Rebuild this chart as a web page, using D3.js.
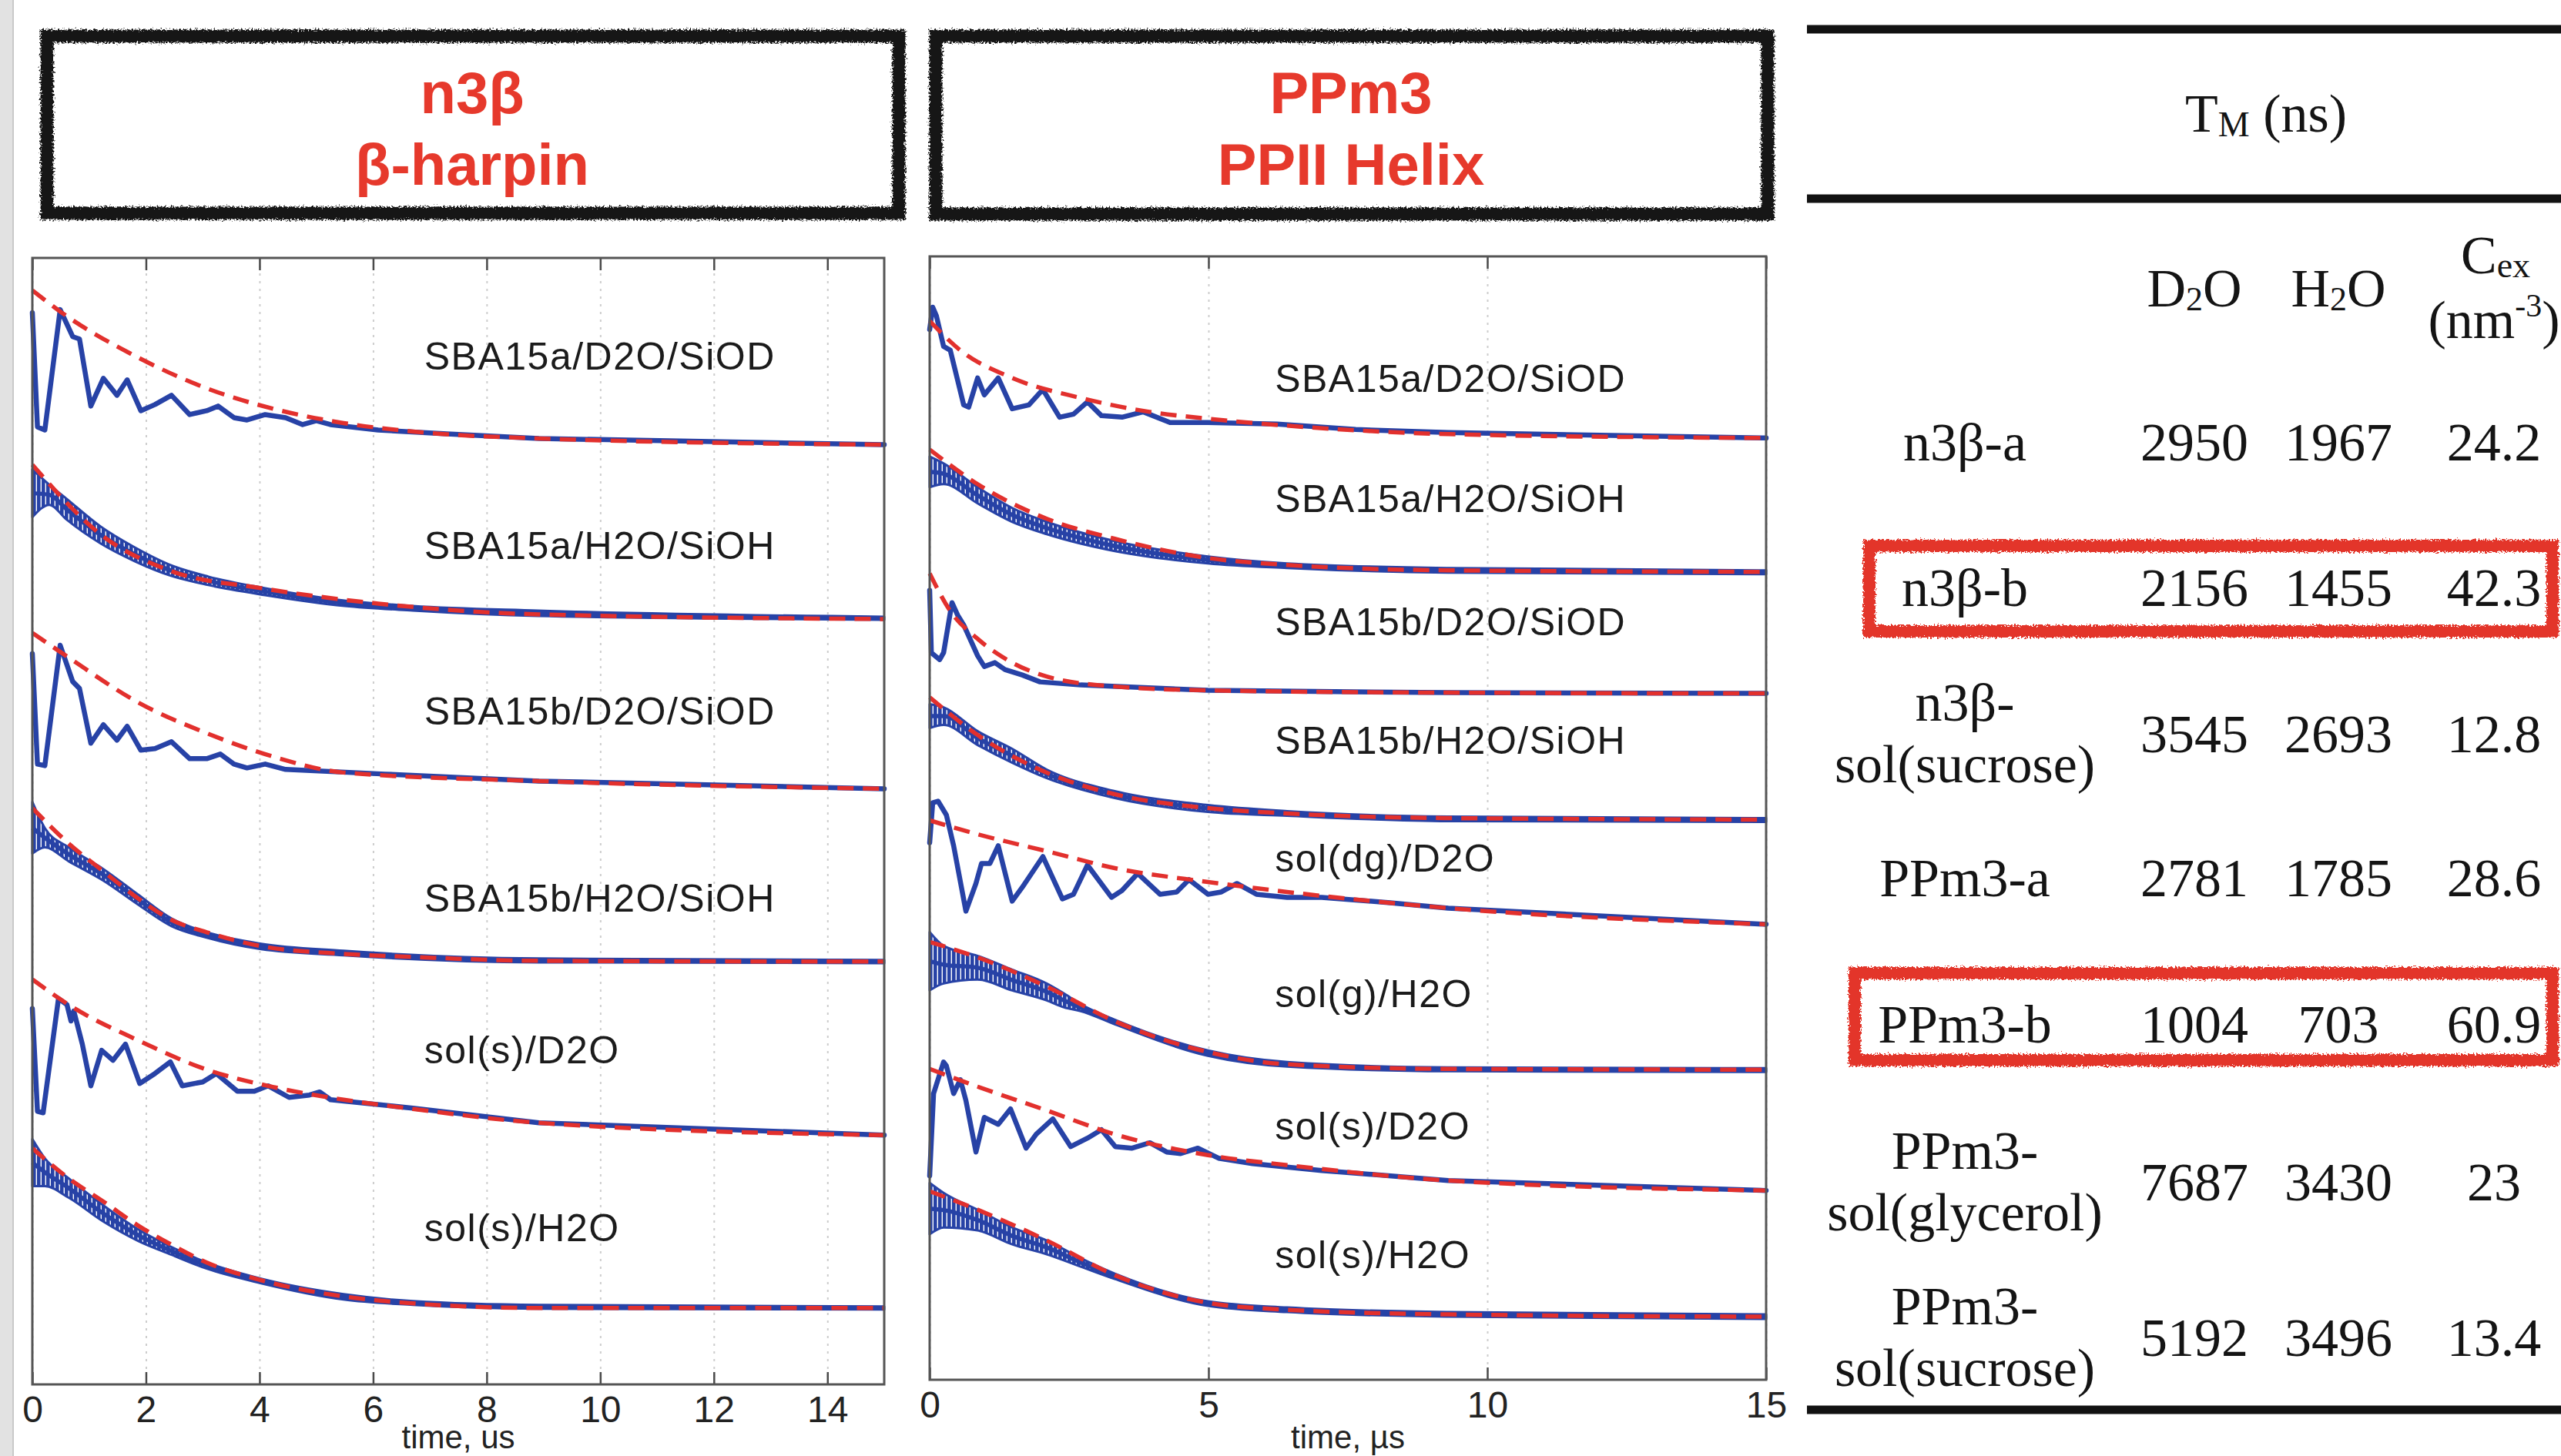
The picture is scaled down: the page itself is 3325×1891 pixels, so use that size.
<!DOCTYPE html>
<html>
<head>
<meta charset="utf-8">
<script src="https://cdn.jsdelivr.net/npm/d3@7"></script>
<style>
  body { margin: 0; background: #fff; }
  svg { display: block; }
  .sans { font-family: "Liberation Sans", Arial, Helvetica, sans-serif; }
  .serif { font-family: "Liberation Serif", "Times New Roman", Times, serif; fill: #141414; }
</style>
</head>
<body>
<svg id="fig" width="3325" height="1891"></svg>
<script>
// ---------------- data ----------------
// time axis in µs; echo amplitudes are stacked (each trace carries its own offset)

const n3bTitle = ["n3β", "β-harpin"];
const ppTitle = ["PPm3", "PPII Helix"];

const n3bTicks = [0, 2, 4, 6, 8, 10, 12, 14];
const ppTicks = [0, 5, 10, 15];

const n3bNames = ["SBA15a/D2O/SiOD", "SBA15a/H2O/SiOH", "SBA15b/D2O/SiOD", "SBA15b/H2O/SiOH", "sol(s)/D2O", "sol(s)/H2O"];
const n3bNameY = [6.665, 5.44, 4.365, 3.155, 2.17, 1.02];

const ppNames = ["SBA15a/D2O/SiOD", "SBA15a/H2O/SiOH", "SBA15b/D2O/SiOD", "SBA15b/H2O/SiOH", "sol(dg)/D2O", "sol(g)/H2O", "sol(s)/D2O", "sol(s)/H2O"];
const ppNameY = [6.51, 5.73, 4.93, 4.16, 3.39, 2.51, 1.65, 0.815];

// n3β: measured decays [t, echo] (D2O) or [t, low, high] band (H2O, proton modulation)
const n3bSbaAD2O = [[0, 6.945], [0.09, 6.205], [0.22, 6.185], [0.49, 6.965], [0.71, 6.79], [0.83, 6.775], [1.03, 6.34], [1.25, 6.52], [1.49, 6.41], [1.67, 6.51], [1.91, 6.31], [2.16, 6.35], [2.45, 6.41], [2.77, 6.285], [3.07, 6.31], [3.27, 6.34], [3.55, 6.265], [3.78, 6.25], [4.10, 6.285], [4.46, 6.265], [4.76, 6.22], [5.00, 6.245], [5.25, 6.22], [6.09, 6.185], [7.30, 6.16], [8.92, 6.13], [15, 6.09]];
const n3bSbaAD2OFit = [[0, 7.09], [0.52, 6.945], [1.86, 6.655], [3.07, 6.455], [4.27, 6.32], [5.48, 6.23], [6.70, 6.175], [8.92, 6.13], [15, 6.09]];

const n3bSbaAH2O = [[0, 5.62, 5.93], [0.3, 5.70, 5.83], [0.6, 5.605, 5.74], [1.2, 5.45, 5.56], [1.8, 5.335, 5.425], [2.4, 5.245, 5.315], [3.1, 5.18, 5.235], [4.1, 5.115, 5.16], [5.5, 5.045, 5.08], [6.7, 5.015, 5.045], [8.9, 4.98, 5.015], [15, 4.955, 4.975]];
const n3bSbaAH2OFit = [[0, 5.96], [1.25, 5.495], [2.45, 5.27], [4.03, 5.16], [6.09, 5.06], [8.92, 4.99], [15, 4.96]];

const n3bSbaBD2O = [[0, 4.735], [0.09, 4.02], [0.22, 4.01], [0.49, 4.79], [0.71, 4.555], [0.83, 4.51], [1.03, 4.155], [1.25, 4.275], [1.49, 4.175], [1.67, 4.265], [1.91, 4.11], [2.16, 4.12], [2.45, 4.165], [2.77, 4.055], [3.07, 4.055], [3.31, 4.085], [3.55, 4.02], [3.78, 3.995], [4.10, 4.02], [4.46, 3.985], [6.21, 3.955], [8.92, 3.91], [15, 3.86]];
const n3bSbaBD2OFit = [[0, 4.87], [0.64, 4.71], [1.86, 4.42], [3.07, 4.22], [4.27, 4.065], [5.48, 3.965], [8.92, 3.91], [15, 3.86]];

const n3bSbaBH2O = [[0, 3.44, 3.775], [0.22, 3.48, 3.605], [0.64, 3.39, 3.48], [1.25, 3.265, 3.34], [1.86, 3.11, 3.175], [2.45, 2.97, 3.02], [3.07, 2.895, 2.93], [4.03, 2.82, 2.855], [5.48, 2.78, 2.81], [8.92, 2.735, 2.76], [15, 2.73, 2.75]];
const n3bSbaBH2OFit = [[0, 3.735], [0.64, 3.505], [1.25, 3.325], [1.86, 3.15], [2.45, 3.01], [3.07, 2.93], [4.03, 2.84], [5.48, 2.79], [6.70, 2.77], [8.92, 2.745], [15, 2.74]];

const n3bSolD2O = [[0, 2.435], [0.09, 1.77], [0.19, 1.76], [0.46, 2.50], [0.61, 2.46], [0.68, 2.355], [0.73, 2.42], [0.88, 2.205], [1.03, 1.935], [1.22, 2.165], [1.42, 2.10], [1.64, 2.205], [1.89, 1.95], [2.16, 2.015], [2.43, 2.09], [2.64, 1.935], [3.00, 1.96], [3.24, 2.015], [3.61, 1.90], [3.91, 1.90], [4.15, 1.935], [4.52, 1.86], [4.88, 1.875], [5.06, 1.895], [5.25, 1.845], [6.70, 1.79], [8.92, 1.695], [15, 1.615]];
const n3bSolD2OFit = [[0, 2.625], [0.64, 2.46], [1.86, 2.23], [3.07, 2.04], [4.27, 1.925], [5.48, 1.845], [6.70, 1.785], [8.92, 1.695], [15, 1.615]];

const n3bSolH2O = [[0, 1.285, 1.59], [0.22, 1.285, 1.465], [0.64, 1.21, 1.335], [1.25, 1.055, 1.16], [1.86, 0.93, 1.005], [2.45, 0.84, 0.89], [3.07, 0.75, 0.79], [4.03, 0.655, 0.685], [5.48, 0.55, 0.585], [6.70, 0.515, 0.54], [8.92, 0.49, 0.515], [15, 0.485, 0.505]];
const n3bSolH2OFit = [[0, 1.53], [0.64, 1.335], [1.25, 1.185], [1.86, 1.03], [2.45, 0.905], [3.07, 0.79], [4.03, 0.675], [5.48, 0.57], [6.70, 0.525], [8.92, 0.495], [15, 0.495]];

// PPm3
const ppSbaAD2O = [[0, 6.825], [0.055, 6.97], [0.12, 6.915], [0.25, 6.715], [0.37, 6.69], [0.61, 6.335], [0.70, 6.32], [0.86, 6.51], [0.98, 6.40], [1.23, 6.51], [1.48, 6.31], [1.78, 6.335], [2.03, 6.435], [2.33, 6.255], [2.58, 6.275], [2.83, 6.355], [3.08, 6.265], [3.45, 6.255], [3.83, 6.29], [4.31, 6.22], [4.99, 6.22], [6.23, 6.21], [7.64, 6.175], [9.30, 6.155], [15, 6.12]];
const ppSbaAD2OFit = [[0, 6.88], [0.55, 6.69], [1.48, 6.51], [2.71, 6.38], [3.94, 6.29], [4.99, 6.245], [6.41, 6.20], [9.30, 6.145], [15, 6.12]];

const ppSbaAH2O = [[0, 5.80, 6.00], [0.25, 5.82, 5.955], [0.86, 5.695, 5.80], [1.48, 5.575, 5.665], [2.1, 5.495, 5.575], [3.32, 5.385, 5.45], [4.99, 5.305, 5.35], [6.41, 5.275, 5.305], [9.30, 5.245, 5.275], [15, 5.235, 5.26]];
const ppSbaAH2OFit = [[0, 6.045], [0.86, 5.82], [2.1, 5.595], [3.32, 5.465], [4.99, 5.34], [6.41, 5.295], [9.30, 5.26], [15, 5.25]];

const ppSbaBD2O = [[0, 5.13], [0.03, 4.725], [0.18, 4.68], [0.25, 4.725], [0.40, 5.05], [0.50, 4.97], [0.61, 4.905], [0.86, 4.705], [0.98, 4.635], [1.17, 4.66], [1.35, 4.615], [1.66, 4.58], [1.98, 4.535], [2.71, 4.515], [4.99, 4.48], [9.30, 4.465], [15, 4.46]];
const ppSbaBD2OFit = [[0, 5.24], [0.37, 4.995], [0.86, 4.815], [1.48, 4.66], [2.1, 4.57], [3.32, 4.505], [4.99, 4.48], [9.30, 4.465], [15, 4.46]];

const ppSbaBH2O = [[0, 4.235, 4.39], [0.25, 4.255, 4.37], [0.86, 4.125, 4.215], [1.48, 4.01, 4.10], [2.1, 3.91, 3.965], [3.32, 3.78, 3.825], [4.99, 3.69, 3.735], [6.41, 3.665, 3.695], [9.30, 3.63, 3.66], [15, 3.625, 3.65]];
const ppSbaBH2OFit = [[0, 4.435], [0.86, 4.19], [2.1, 3.945], [3.32, 3.805], [4.99, 3.715], [6.41, 3.68], [9.30, 3.65], [15, 3.64]];

const ppDgD2O = [[0, 3.49], [0.055, 3.75], [0.15, 3.76], [0.30, 3.67], [0.43, 3.47], [0.65, 3.045], [0.83, 3.225], [0.93, 3.355], [1.08, 3.355], [1.23, 3.47], [1.48, 3.11], [1.66, 3.20], [2.03, 3.40], [2.38, 3.125], [2.58, 3.155], [2.83, 3.345], [3.26, 3.135], [3.45, 3.18], [3.73, 3.29], [4.13, 3.155], [4.43, 3.17], [4.65, 3.25], [4.99, 3.155], [5.23, 3.17], [5.51, 3.225], [5.86, 3.155], [6.41, 3.135], [7.03, 3.135], [8.26, 3.10], [9.30, 3.065], [15, 2.96]];
const ppDgD2OFit = [[0, 3.635], [0.86, 3.545], [2.1, 3.435], [3.32, 3.325], [4.99, 3.235], [6.41, 3.17], [9.30, 3.065], [15, 2.96]];

const ppGH2O = [[0, 2.53, 2.91], [0.25, 2.575, 2.82], [0.86, 2.60, 2.755], [1.48, 2.53, 2.665], [2.1, 2.465, 2.575], [2.41, 2.42, 2.51], [2.71, 2.395, 2.44], [3.32, 2.31, 2.34], [4.99, 2.105, 2.14], [6.41, 2.035, 2.065], [9.30, 2.005, 2.03], [15, 2.00, 2.025]];
const ppGH2OFit = [[0, 2.845], [0.86, 2.745], [2.1, 2.555], [3.32, 2.33], [4.99, 2.13], [6.41, 2.05], [9.30, 2.02], [15, 2.015]];

const ppSD2O = [[0, 1.325], [0.07, 1.86], [0.25, 2.065], [0.30, 2.04], [0.43, 1.86], [0.55, 1.95], [0.65, 1.815], [0.83, 1.48], [0.98, 1.705], [1.23, 1.66], [1.45, 1.76], [1.73, 1.505], [1.91, 1.595], [2.21, 1.695], [2.53, 1.515], [2.83, 1.57], [3.08, 1.625], [3.33, 1.515], [3.63, 1.505], [3.95, 1.54], [4.25, 1.48], [4.50, 1.47], [4.81, 1.505], [5.18, 1.44], [5.79, 1.405], [7.03, 1.36], [9.30, 1.295], [15, 1.23]];
const ppSD2OFit = [[0, 2.02], [0.86, 1.905], [2.1, 1.75], [3.32, 1.595], [4.99, 1.46], [6.41, 1.395], [9.30, 1.295], [15, 1.23]];

const ppSH2O = [[0, 0.945, 1.28], [0.25, 0.99, 1.215], [0.86, 0.97, 1.105], [1.48, 0.88, 0.99], [2.1, 0.815, 0.905], [2.71, 0.735, 0.79], [3.32, 0.655, 0.69], [4.99, 0.48, 0.51], [6.41, 0.44, 0.47], [9.30, 0.41, 0.44], [15, 0.395, 0.425]];
const ppSH2OFit = [[0, 1.225], [0.86, 1.105], [2.1, 0.905], [3.32, 0.68], [4.99, 0.50], [6.41, 0.455], [9.30, 0.425], [15, 0.41]];

// table: phase memory time TM (ns) and local water concentration
const tblNames = [["n3β-a"], ["n3β-b"], ["n3β-", "sol(sucrose)"], ["PPm3-a"], ["PPm3-b"], ["PPm3-", "sol(glycerol)"], ["PPm3-", "sol(sucrose)"]];
const tmD2O = ["2950", "2156", "3545", "2781", "1004", "7687", "5192"];
const tmH2O = ["1967", "1455", "2693", "1785", "703", "3430", "3496"];
const cEx = ["24.2", "42.3", "12.8", "28.6", "60.9", "23", "13.4"];
const highlightRows = [1, 4];

// ---------------- drawing ----------------
const BLUE = "#2742a6";
const RED = "#e2302d";
const TITLE_RED = "#e6392c";

var svg = d3.select("#fig");

var defs = svg.append("defs");
var rough = defs.append("filter").attr("id", "rough")
    .attr("filterUnits", "userSpaceOnUse")
    .attr("x", 0).attr("y", 0).attr("width", 3325).attr("height", 1891);
rough.append("feTurbulence").attr("type", "fractalNoise")
    .attr("baseFrequency", "0.45").attr("numOctaves", 3).attr("seed", 7).attr("result", "noise");
rough.append("feDisplacementMap").attr("in", "SourceGraphic").attr("in2", "noise")
    .attr("scale", 9).attr("xChannelSelector", "R").attr("yChannelSelector", "G");

// fine vertical hatching to mimic the dense proton modulation inside the H2O bands
var teeth = defs.append("pattern").attr("id", "teeth")
    .attr("patternUnits", "userSpaceOnUse").attr("width", 6).attr("height", 40);
teeth.append("rect").attr("width", 4.6).attr("height", 40).attr("fill", BLUE);

// grey page edge on the far left
svg.append("rect").attr("x", 0).attr("y", 0).attr("width", 17).attr("height", 1891).attr("fill", "#e2e2e2");
svg.append("line").attr("x1", 17).attr("x2", 17).attr("y1", 0).attr("y2", 1891)
    .attr("stroke", "#c9c9c9").attr("stroke-width", 2);

// title boxes
var titleBoxes = [
    { x: 61, y: 47, w: 1106, h: 230, cx: 613, lines: n3bTitle },
    { x: 1215, y: 47, w: 1080, h: 231, cx: 1754, lines: ppTitle }
];
titleBoxes.forEach(function (b) {
    svg.append("rect")
        .attr("x", b.x).attr("y", b.y).attr("width", b.w).attr("height", b.h)
        .attr("fill", "none").attr("stroke", "#161616").attr("stroke-width", 17)
        .attr("filter", "url(#rough)");
    svg.append("g").selectAll("text")
        .data(b.lines).enter()
        .append("text")
        .attr("class", "sans")
        .attr("x", b.cx)
        .attr("y", function (d, i) { return 147 + i * 93; })
        .attr("text-anchor", "middle")
        .attr("font-size", 76).attr("font-weight", "bold")
        .attr("fill", TITLE_RED)
        .text(function (d) { return d; });
});

// the two stacked decay panels
var panels = [
    {
        left: 42, right: 1148, top: 335, bottom: 1798, ticks: n3bTicks, xlabel: "time, us",
        names: n3bNames, nameY: n3bNameY, nameT: 6.9,
        traces: [
            { line: n3bSbaAD2O, fit: n3bSbaAD2OFit },
            { band: n3bSbaAH2O, fit: n3bSbaAH2OFit },
            { line: n3bSbaBD2O, fit: n3bSbaBD2OFit },
            { band: n3bSbaBH2O, fit: n3bSbaBH2OFit },
            { line: n3bSolD2O, fit: n3bSolD2OFit },
            { band: n3bSolH2O, fit: n3bSolH2OFit }
        ]
    },
    {
        left: 1207, right: 2293, top: 333, bottom: 1792, ticks: ppTicks, xlabel: "time, µs",
        names: ppNames, nameY: ppNameY, nameT: 6.19,
        traces: [
            { line: ppSbaAD2O, fit: ppSbaAD2OFit },
            { band: ppSbaAH2O, fit: ppSbaAH2OFit },
            { line: ppSbaBD2O, fit: ppSbaBD2OFit },
            { band: ppSbaBH2O, fit: ppSbaBH2OFit },
            { line: ppDgD2O, fit: ppDgD2OFit },
            { band: ppGH2O, fit: ppGH2OFit },
            { line: ppSD2O, fit: ppSD2OFit },
            { band: ppSH2O, fit: ppSH2OFit }
        ]
    }
];

panels.forEach(function (p) {
    var x = d3.scaleLinear().domain([0, 15]).range([p.left, p.right]);
    var y = d3.scaleLinear().domain([0, 7.3]).range([p.bottom, p.top]);
    var g = svg.append("g");

    // dotted grid
    g.append("g")
        .attr("transform", "translate(0," + p.bottom + ")")
        .call(d3.axisBottom(x).tickValues(p.ticks).tickSize(-(p.bottom - p.top)).tickFormat(""))
        .call(function (s) { s.select(".domain").remove(); })
        .selectAll("line")
        .attr("stroke", "#cdcdcd").attr("stroke-width", 2).attr("stroke-dasharray", "3,7");

    var dataLine = d3.line().x(function (d) { return x(d[0]); }).y(function (d) { return y(d[1]); });
    var fitLine = d3.line().x(function (d) { return x(d[0]); }).y(function (d) { return y(d[1]); })
        .curve(d3.curveMonotoneX);
    var band = d3.area().x(function (d) { return x(d[0]); })
        .y0(function (d) { return y(d[1]); }).y1(function (d) { return y(d[2]); })
        .curve(d3.curveMonotoneX);
    var bandMid = d3.line().x(function (d) { return x(d[0]); })
        .y(function (d) { return y((d[1] + d[2]) / 2); })
        .curve(d3.curveMonotoneX);

    p.traces.forEach(function (tr) {
        if (tr.line) {
            g.append("path").attr("d", dataLine(tr.line))
                .attr("fill", "none").attr("stroke", BLUE).attr("stroke-width", 6.5)
                .attr("stroke-linejoin", "round").attr("stroke-linecap", "round");
        } else {
            g.append("path").attr("d", band(tr.band))
                .attr("fill", "url(#teeth)").attr("stroke", BLUE).attr("stroke-width", 3)
                .attr("stroke-linejoin", "round");
            g.append("path").attr("d", bandMid(tr.band))
                .attr("fill", "none").attr("stroke", BLUE).attr("stroke-width", 5.5);
        }
        g.append("path").attr("d", fitLine(tr.fit))
            .attr("fill", "none").attr("stroke", RED).attr("stroke-width", 5.5)
            .attr("stroke-dasharray", "21,12");
    });

    // trace labels
    g.append("g").selectAll("text")
        .data(p.names).enter()
        .append("text")
        .attr("class", "sans")
        .attr("x", x(p.nameT))
        .attr("y", function (d, i) { return y(p.nameY[i]); })
        .attr("dy", "0.36em")
        .attr("font-size", 50).attr("letter-spacing", 1.5)
        .attr("fill", "#1b1b1b")
        .text(function (d) { return d; });

    // bottom axis with inward ticks, top axis ticks only
    var bottomAxis = g.append("g")
        .attr("transform", "translate(0," + p.bottom + ")")
        .call(d3.axisBottom(x).tickValues(p.ticks).tickSizeInner(-16).tickSizeOuter(0)
            .tickPadding(15).tickFormat(d3.format("d")));
    bottomAxis.select(".domain").remove();
    bottomAxis.selectAll("line").attr("stroke", "#4a4a4a").attr("stroke-width", 2.5);
    bottomAxis.selectAll("text").attr("class", "sans").attr("font-size", 48).attr("fill", "#222");

    var topAxis = g.append("g")
        .attr("transform", "translate(0," + p.top + ")")
        .call(d3.axisTop(x).tickValues(p.ticks).tickSizeInner(-16).tickSizeOuter(0).tickFormat(""));
    topAxis.select(".domain").remove();
    topAxis.selectAll("line").attr("stroke", "#4a4a4a").attr("stroke-width", 2.5);

    g.append("rect")
        .attr("x", p.left).attr("y", p.top)
        .attr("width", p.right - p.left).attr("height", p.bottom - p.top)
        .attr("fill", "none").attr("stroke", "#555").attr("stroke-width", 3);

    g.append("text")
        .attr("class", "sans")
        .attr("x", (p.left + p.right) / 2).attr("y", 1881)
        .attr("text-anchor", "middle").attr("font-size", 42).attr("fill", "#222")
        .text(p.xlabel);
});

// ---------------- table ----------------
var tbl = svg.append("g").attr("class", "serif");
[38, 258, 1831].forEach(function (yy) {
    tbl.append("rect").attr("x", 2346).attr("y", yy - 5.5)
        .attr("width", 979).attr("height", 11).attr("fill", "#121212");
});

// header
var tm = tbl.append("text").attr("x", 2942).attr("y", 171).attr("text-anchor", "middle").attr("font-size", 70);
tm.append("tspan").text("T");
tm.append("tspan").attr("font-size", 46).attr("dy", 6).text("M");
tm.append("tspan").attr("dy", -6).text(" (ns)");

[{ cx: 2849, s: "D" }, { cx: 3036, s: "H" }].forEach(function (h) {
    var t = tbl.append("text").attr("x", h.cx).attr("y", 398).attr("text-anchor", "middle").attr("font-size", 70);
    t.append("tspan").text(h.s);
    t.append("tspan").attr("font-size", 44).attr("dy", 5).text("2");
    t.append("tspan").attr("dy", -5).text("O");
});
var cx1 = tbl.append("text").attr("x", 3240).attr("y", 355).attr("text-anchor", "middle").attr("font-size", 70);
cx1.append("tspan").text("C");
cx1.append("tspan").attr("font-size", 46).attr("dy", 5).text("ex");
var cx2 = tbl.append("text").attr("x", 3238).attr("y", 439).attr("text-anchor", "middle").attr("font-size", 70);
cx2.append("tspan").text("(nm");
cx2.append("tspan").attr("font-size", 42).attr("dy", -28).text("-3");
cx2.append("tspan").attr("dy", 28).text(")");

// rows
var rowBase = [598, 787, 977, 1164, 1354, 1559, 1761];
var colX = { name: 2551, d2o: 2849, h2o: 3036, cex: 3238 };

tblNames.forEach(function (lines, i) {
    var base = rowBase[i];
    lines.forEach(function (ln, j) {
        var yy = lines.length === 1 ? base : base - 41 + j * 80;
        tbl.append("text").attr("x", colX.name).attr("y", yy)
            .attr("text-anchor", "middle").attr("font-size", 70).text(ln);
    });
    [[colX.d2o, tmD2O[i]], [colX.h2o, tmH2O[i]], [colX.cex, cEx[i]]].forEach(function (c) {
        tbl.append("text").attr("x", c[0]).attr("y", base)
            .attr("text-anchor", "middle").attr("font-size", 70).text(c[1]);
    });
});

// red highlight boxes around the rows with the highest water concentration
var hiBoxes = [
    { x: 2427, y: 709, w: 887, h: 111 },
    { x: 2408, y: 1264, w: 906, h: 113 }
];
highlightRows.forEach(function (r, k) {
    var b = hiBoxes[k];
    svg.append("rect")
        .attr("x", b.x).attr("y", b.y).attr("width", b.w).attr("height", b.h)
        .attr("fill", "none").attr("stroke", "#e3342a").attr("stroke-width", 16)
        .attr("filter", "url(#rough)");
});
</script>
</body>
</html>
